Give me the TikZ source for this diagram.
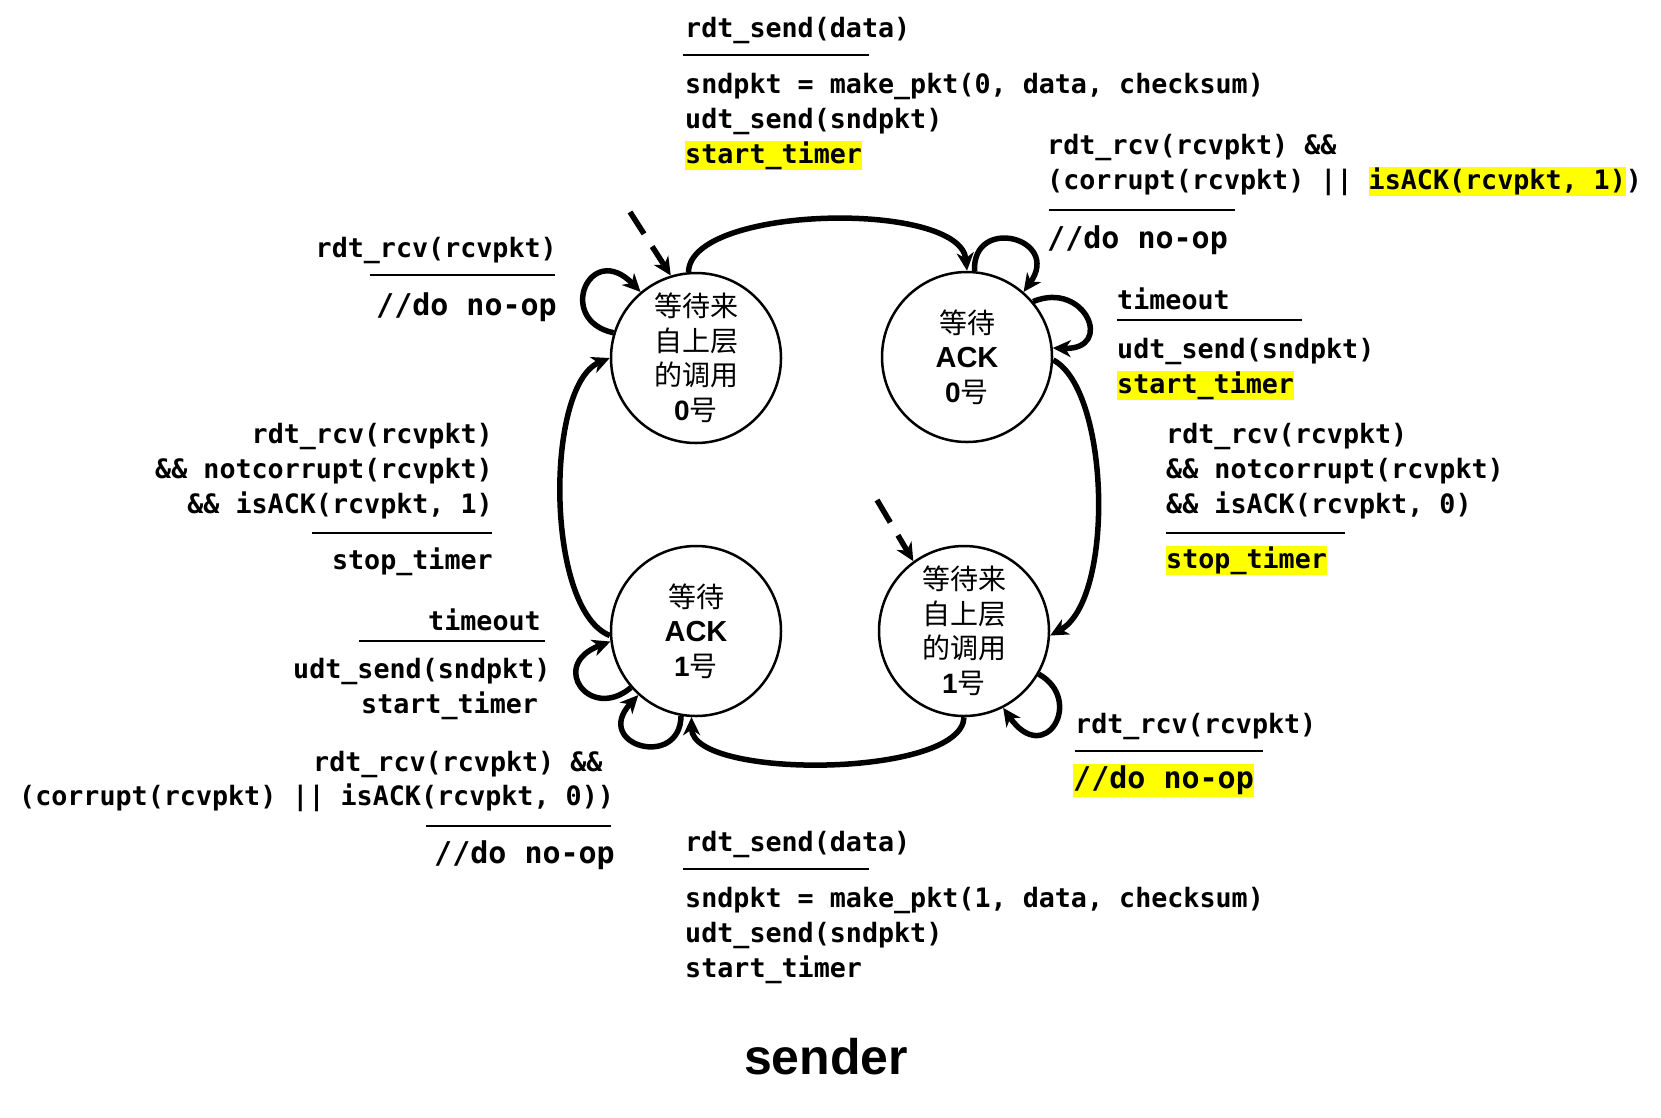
\documentclass[tikz,border=0pt]{standalone}
\usepackage{fontspec}
\setmainfont{Liberation Sans}
\setmonofont{DejaVu Sans Mono}
\newfontfamily\cjkf{Noto Sans CJK SC}
\usetikzlibrary{arrows.meta}
\definecolor{hl}{RGB}{255,255,0}
\newcommand{\mono}{\ttfamily\bfseries\fontsize{26.7}{35}\selectfont}
\newcommand{\monol}{\ttfamily\bfseries\fontsize{30}{35}\selectfont}
\newcommand{\statef}{\fontsize{28}{34.5}\selectfont}
\newcommand{\hlbox}[1]{{\setlength{\fboxsep}{0pt}\colorbox{hl}{\rule[-7pt]{0pt}{28pt}#1}}}
\newcommand{\hlboxl}[1]{{\setlength{\fboxsep}{0pt}\colorbox{hl}{\rule[-8.5pt]{0pt}{33pt}#1}}}
\tikzset{
  state/.style={circle, draw, line width=2.5pt, minimum size=170pt, inner sep=0pt, align=center, font=\statef},
  lb/.style={font=\mono, inner sep=0pt, anchor=base west},
  lbr/.style={font=\mono, inner sep=0pt, anchor=base east},
  lbL/.style={font=\monol, inner sep=0pt, anchor=base west},
  lbLr/.style={font=\monol, inner sep=0pt, anchor=base east},
  ul/.style={line width=2.8pt},
  arr/.style={line width=5.5pt, -{Stealth[length=18pt,width=17pt,inset=5.5pt]}},
  darr/.style={arr, dash pattern=on 26pt off 15pt}
}
\begin{document}
\begin{tikzpicture}[x=1pt,y=-1pt]
\useasboundingbox (0,0) rectangle (1661,1117);
\fill[white] (0,0) rectangle (1661,1117);

% states
\node[state] (s0) at (696,358) {{\cjkf 等待来}\\{\cjkf 自上层}\\{\cjkf 的调用}\\{\bfseries 0}{\cjkf 号}};
\node[state] (s1) at (967,357) {{\cjkf 等待}\\{\fontsize{29}{34.5}\selectfont\bfseries ACK}\\{\bfseries 0}{\cjkf 号}};
\node[state] (s2) at (964,631) {{\cjkf 等待来}\\{\cjkf 自上层}\\{\cjkf 的调用}\\{\bfseries 1}{\cjkf 号}};
\node[state] (s3) at (696,631) {{\cjkf 等待}\\{\fontsize{29}{34.5}\selectfont\bfseries ACK}\\{\bfseries 1}{\cjkf 号}};

% initial dashed arrows
\coordinate (i0) at (630,212);
\coordinate (i2) at (877,500);
\draw[darr] (i0) -- (s0.107);
\draw[darr] (i2) -- (s2.126);

% main transitions
\draw[arr] (s0.95) .. controls (690,205) and (960,200) .. (s1.90);
\draw[arr] (s1.-2) .. controls (1110,390) and (1115,600) .. (s2.-3);
\draw[arr] (s2.270) .. controls (962,778) and (692,780) .. (s3.267);
\draw[arr] (s3.183) .. controls (545,610) and (545,385) .. (s0.180);

% self loops
\draw[arr] (s0.163) .. controls (555,320) and (590,240) .. (s0.130);
\draw[arr] (s1.85) .. controls (972,215) and (1062,238) .. (s1.49);
\draw[arr] (s1.40) .. controls (1085,280) and (1115,350) .. (s1.6);
\draw[arr] (s3.221) .. controls (590,722) and (548,665) .. (s3.187);
\draw[arr] (s3.260) .. controls (680,770) and (592,745) .. (s3.228);
\draw[arr] (s2.-30) .. controls (1085,700) and (1045,768) .. (s2.-63);

% top block
\node[lb] (t1) at (685,37) {rdt\_send(data)};
\draw[ul] (683,55) -- (869,55);
\node[lb] (t2) at (685,93) {sndpkt = make\_pkt(0, data, checksum)};
\node[lb] (t3) at (685,128) {udt\_send(sndpkt)};
\node[lb] (t4) at (685,163) {\hlbox{start\_timer}};

% top right
\node[lb] (a1) at (1047,154) {rdt\_rcv(rcvpkt) \&\&};
\node[lb] (a2) at (1047,189) {(corrupt(rcvpkt) || \hlbox{isACK(rcvpkt, 1)})};
\draw[ul] (1049,210) -- (1235,210);
\node[lbL] (a3) at (1047,248) {//do no-op};

% top-left loop label
\node[lbr] (b1) at (557,257) {rdt\_rcv(rcvpkt)};
\draw[ul] (370,275) -- (555,275);
\node[lbLr] (b2) at (557,315) {//do no-op};

% right timeout
\node[lb] (c1) at (1117,309) {timeout};
\draw[ul] (1117,320) -- (1302,320);
\node[lb] (c2) at (1117,358) {udt\_send(sndpkt)};
\node[lb] (c3) at (1117,393) {\hlbox{start\_timer}};

% right lower
\node[lb] (d1) at (1166,443) {rdt\_rcv(rcvpkt)};
\node[lb] (d2) at (1166,478) {\&\& notcorrupt(rcvpkt)};
\node[lb] (d3) at (1166,513) {\&\& isACK(rcvpkt, 0)};
\draw[ul] (1166,533) -- (1345,533);
\node[lb] (d4) at (1166,568) {\hlbox{stop\_timer}};

% left middle
\node[lbr] (e1) at (493,443) {rdt\_rcv(rcvpkt)};
\node[lbr] (e2) at (493,478) {\&\& notcorrupt(rcvpkt)};
\node[lbr] (e3) at (493,513) {\&\& isACK(rcvpkt, 1)};
\draw[ul] (312,533) -- (492,533);
\node[lbr] (e4) at (493,569) {stop\_timer};

% left timeout
\node[lb] (f1) at (428,630) {timeout};
\draw[ul] (359,641) -- (545,641);
\node[lb] (f2) at (293,678) {udt\_send(sndpkt)};
\node[lb] (f3) at (361,713) {start\_timer};

% bottom-left
\node[lb] (g1) at (313,771) {rdt\_rcv(rcvpkt) \&\&};
\node[lb] (g2) at (19,805) {(corrupt(rcvpkt) || isACK(rcvpkt, 0))};
\draw[ul] (426,826) -- (611,826);
\node[lbL] (g3) at (434,863) {//do no-op};

% bottom block
\node[lb] (h1) at (685,851) {rdt\_send(data)};
\draw[ul] (683,869) -- (869,869);
\node[lb] (h2) at (685,907) {sndpkt = make\_pkt(1, data, checksum)};
\node[lb] (h3) at (685,942) {udt\_send(sndpkt)};
\node[lb] (h4) at (685,977) {start\_timer};

% bottom-right
\node[lb] (k1) at (1075,733) {rdt\_rcv(rcvpkt)};
\draw[ul] (1075,751) -- (1263,751);
\node[lbL] (k2) at (1073,788) {\hlboxl{//do no-op}};

% title
\node[font=\bfseries\fontsize{50}{60}\selectfont] (title) at (826,1057) {sender};
\end{tikzpicture}
\end{document}
